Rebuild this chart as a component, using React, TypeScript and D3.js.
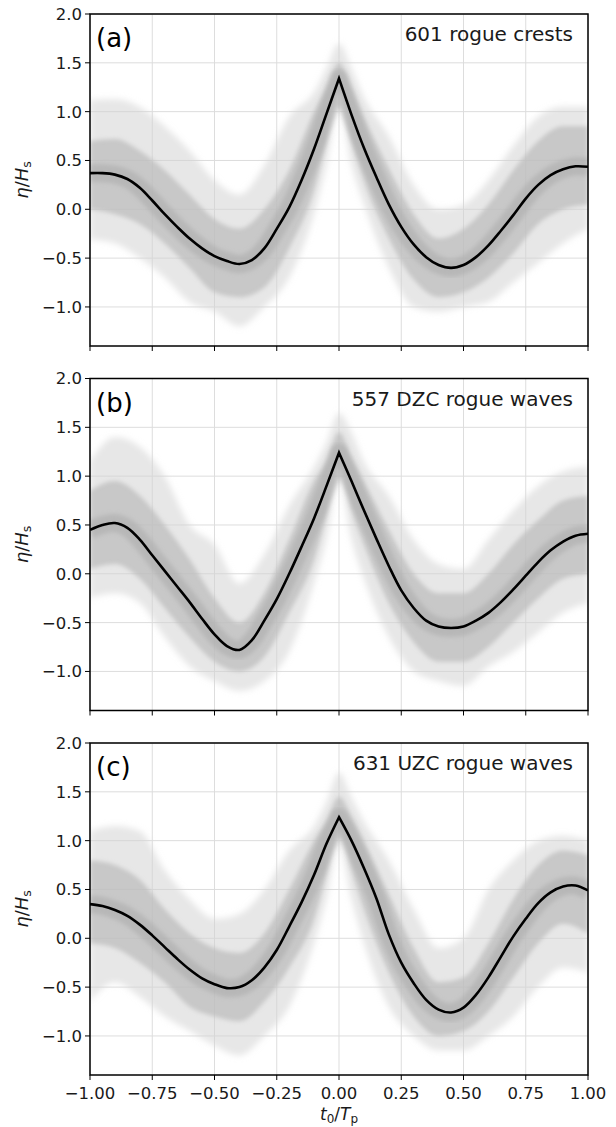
import React from "react";
import * as d3 from "d3";

// ---------- data ----------
const xTicks = [-1, -0.75, -0.5, -0.25, 0, 0.25, 0.5, 0.75, 1];
const yTicks = [-1.0, -0.5, 0, 0.5, 1.0, 1.5, 2.0];
const panelLabels = ["(a)", "(b)", "(c)"];
const panelTitles = ["601 rogue crests", "557 DZC rogue waves", "631 UZC rogue waves"];

const meanT = [-1, -0.95, -0.9, -0.85, -0.8, -0.75, -0.7, -0.65, -0.6, -0.55, -0.5, -0.45, -0.4, -0.35, -0.3, -0.25, -0.2, -0.15, -0.1, -0.05, 0, 0.05, 0.1, 0.15, 0.2, 0.25, 0.3, 0.35, 0.4, 0.45, 0.5, 0.55, 0.6, 0.65, 0.7, 0.75, 0.8, 0.85, 0.9, 0.95, 1.0];
const meanA = [0.37, 0.37, 0.355, 0.31, 0.22, 0.09, -0.05, -0.18, -0.3, -0.4, -0.48, -0.53, -0.56, -0.52, -0.4, -0.2, 0.02, 0.3, 0.62, 0.98, 1.34, 0.97, 0.63, 0.33, 0.05, -0.18, -0.36, -0.49, -0.57, -0.6, -0.57, -0.49, -0.37, -0.22, -0.06, 0.11, 0.25, 0.35, 0.41, 0.44, 0.435];
const meanB = [0.45, 0.5, 0.52, 0.47, 0.35, 0.19, 0.03, -0.13, -0.29, -0.46, -0.62, -0.74, -0.78, -0.68, -0.48, -0.26, 0.0, 0.28, 0.57, 0.9, 1.24, 0.95, 0.65, 0.36, 0.08, -0.17, -0.35, -0.48, -0.54, -0.555, -0.54, -0.48, -0.4, -0.29, -0.16, -0.02, 0.12, 0.24, 0.33, 0.39, 0.41];
const meanC = [0.35, 0.33, 0.29, 0.23, 0.14, 0.03, -0.09, -0.21, -0.32, -0.41, -0.47, -0.51, -0.5, -0.43, -0.3, -0.12, 0.12, 0.37, 0.65, 0.97, 1.24, 1.0, 0.72, 0.41, 0.04, -0.25, -0.46, -0.63, -0.73, -0.76, -0.71, -0.58, -0.4, -0.19, 0.02, 0.2, 0.36, 0.47, 0.53, 0.54, 0.49];

const bandT = [-1, -0.9, -0.8, -0.7, -0.6, -0.5, -0.4, -0.3, -0.2, -0.1, -0.05, 0, 0.05, 0.1, 0.2, 0.3, 0.4, 0.5, 0.6, 0.7, 0.8, 0.9, 1];
const aOuterHi = [1.12, 1.13, 1.05, 0.85, 0.6, 0.3, 0.15, 0.45, 0.95, 1.2, 1.45, 1.7, 1.45, 1.15, 0.75, 0.25, 0.0, 0.05, 0.3, 0.65, 0.95, 1.05, 1.05];
const aOuterLo = [-0.31, -0.35, -0.5, -0.7, -0.95, -1.05, -1.2, -1.0, -0.7, -0.05, 0.45, 1.05, 0.45, 0.05, -0.6, -1.0, -1.05, -1.0, -0.95, -0.75, -0.55, -0.35, -0.2];
const aInnerHi = [0.7, 0.72, 0.6, 0.4, 0.15, -0.1, -0.2, 0.0, 0.4, 1.0, 1.25, 1.5, 1.25, 0.95, 0.42, -0.05, -0.3, -0.2, 0.05, 0.4, 0.7, 0.85, 0.85];
const aInnerLo = [0.0, -0.05, -0.15, -0.35, -0.6, -0.85, -0.9, -0.8, -0.4, 0.2, 0.7, 1.2, 0.7, 0.3, -0.3, -0.72, -0.9, -0.85, -0.7, -0.45, -0.15, 0.0, 0.05];

const bOuterHi = [1.15, 1.4, 1.3, 1.0, 0.5, 0.3, -0.1, 0.2, 0.7, 1.1, 1.35, 1.65, 1.45, 1.15, 0.8, 0.35, 0.1, 0.05, 0.35, 0.65, 0.9, 1.05, 1.1];
const bOuterLo = [-0.25, -0.2, -0.3, -0.65, -0.95, -1.1, -1.2, -1.1, -0.8, -0.1, 0.35, 0.95, 0.35, -0.05, -0.65, -1.0, -1.1, -1.15, -0.95, -0.8, -0.6, -0.4, -0.3];
const bInnerHi = [0.85, 0.95, 0.8, 0.5, 0.15, -0.25, -0.5, -0.2, 0.35, 0.95, 1.15, 1.45, 1.2, 0.95, 0.45, 0.0, -0.2, -0.2, 0.0, 0.3, 0.55, 0.75, 0.8];
const bInnerLo = [0.05, 0.1, -0.05, -0.35, -0.65, -0.9, -1.0, -0.85, -0.4, 0.15, 0.6, 1.1, 0.65, 0.3, -0.3, -0.7, -0.9, -0.9, -0.75, -0.5, -0.25, -0.05, 0.0];

const cOuterHi = [1.1, 1.15, 1.1, 0.7, 0.4, 0.2, 0.25, 0.5, 0.9, 1.15, 1.4, 1.7, 1.45, 1.2, 0.8, 0.3, -0.1, 0.0, 0.5, 0.8, 1.0, 1.05, 1.0];
const cOuterLo = [-0.65, -0.45, -0.6, -0.8, -0.95, -1.1, -1.2, -1.0, -0.7, -0.05, 0.4, 0.95, 0.4, -0.05, -0.7, -1.0, -1.15, -1.15, -1.0, -0.8, -0.5, -0.3, -0.35];
const cInnerHi = [0.8, 0.75, 0.6, 0.3, 0.05, -0.1, -0.15, 0.05, 0.5, 1.0, 1.2, 1.45, 1.25, 1.0, 0.45, -0.1, -0.45, -0.4, -0.05, 0.4, 0.75, 0.9, 0.85];
const cInnerLo = [-0.05, -0.1, -0.25, -0.45, -0.7, -0.8, -0.85, -0.65, -0.3, 0.2, 0.65, 1.1, 0.7, 0.3, -0.35, -0.8, -1.0, -0.95, -0.75, -0.4, -0.05, 0.15, 0.05];

const means = [meanA, meanB, meanC];
const outerHi = [aOuterHi, bOuterHi, cOuterHi];
const outerLo = [aOuterLo, bOuterLo, cOuterLo];
const innerHi = [aInnerHi, bInnerHi, cInnerHi];
const innerLo = [aInnerLo, bInnerLo, cInnerLo];

// ---------- layout ----------
const W = 616;
const H = 1127;
const LEFT = 90;
const RIGHT = 588;
const PH = 332;
const TOPS = [14, 378.5, 743];
const FONT = "DejaVu Sans, sans-serif";
const TICK_FS = 16.5;
const fmtMinus = (s: string) => s.replace("-", "\u2212");

export default function App() {
  const x = d3.scaleLinear().domain([-1, 1]).range([LEFT, RIGHT]);

  return (
    <div style={{ position: "absolute", left: 0, top: 0 }}>
      <svg width={W} height={H} style={{ display: "block", background: "#fff" }} fontFamily={FONT}>
        <defs>
          <filter id="soft" x="-5%" y="-5%" width="110%" height="110%">
            <feGaussianBlur stdDeviation="2.2" />
          </filter>
          <filter id="soft2" x="-5%" y="-5%" width="110%" height="110%">
            <feGaussianBlur stdDeviation="3" />
          </filter>
          {TOPS.map((top, i) => (
            <clipPath id={`clip${i}`} key={i}>
              <rect x={LEFT} y={top} width={RIGHT - LEFT} height={PH} />
            </clipPath>
          ))}
        </defs>
        {TOPS.map((top, i) => {
          const y = d3.scaleLinear().domain([-1.4, 2.0]).range([top + PH, top]);
          const bandData = bandT.map((t, k) => ({
            t,
            oh: outerHi[i][k],
            ol: outerLo[i][k],
            ih: innerHi[i][k],
            il: innerLo[i][k],
          }));
          const outerArea = d3
            .area<any>()
            .x((d) => x(d.t))
            .y0((d) => y(d.ol))
            .y1((d) => y(d.oh))
            .curve(d3.curveMonotoneX)(bandData) as string;
          const innerArea = d3
            .area<any>()
            .x((d) => x(d.t))
            .y0((d) => y(d.il))
            .y1((d) => y(d.ih))
            .curve(d3.curveMonotoneX)(bandData) as string;
          const pts = meanT.map((t, k) => ({ t, v: means[i][k] }));
          const leftPts = pts.filter((p) => p.t <= 0);
          const rightPts = pts.filter((p) => p.t >= 0);
          const lineGen = d3
            .line<any>()
            .x((d) => x(d.t))
            .y((d) => y(d.v))
            .curve(d3.curveCatmullRom.alpha(0.5));
          const meanPath = (lineGen(leftPts) as string) + (lineGen(rightPts) as string).replace(/^M/, "L");
          const isLast = i === TOPS.length - 1;
          const bottom = top + PH;
          return (
            <g key={i}>
              {/* grid */}
              {xTicks.map((t) => (
                <line key={"gx" + t} x1={x(t)} x2={x(t)} y1={top} y2={bottom} stroke="#dddddd" strokeWidth={1} />
              ))}
              {yTicks.map((t) => (
                <line key={"gy" + t} x1={LEFT} x2={RIGHT} y1={y(t)} y2={y(t)} stroke="#dddddd" strokeWidth={1} />
              ))}
              {/* bundle of realisations */}
              <g clipPath={`url(#clip${i})`}>
                <path d={outerArea} fill="#d4d4d4" fillOpacity={0.55} filter="url(#soft2)" />
                <path d={innerArea} fill="#bbbbbb" fillOpacity={0.72} filter="url(#soft)" />
                <path
                  d={meanPath}
                  fill="none"
                  stroke="#a9a9a9"
                  strokeOpacity={0.55}
                  strokeWidth={18}
                  strokeLinejoin="round"
                  filter="url(#soft)"
                />
                <path d={meanPath} fill="none" stroke="#000" strokeWidth={2.6} strokeLinejoin="miter" />
              </g>
              {/* spines */}
              <rect x={LEFT} y={top} width={RIGHT - LEFT} height={PH} fill="none" stroke="#000" strokeWidth={1.5} />
              {/* y ticks */}
              {yTicks.map((t) => (
                <g key={"ty" + t}>
                  <line x1={LEFT - 5} x2={LEFT} y1={y(t)} y2={y(t)} stroke="#000" strokeWidth={1} />
                  <text x={LEFT - 8} y={y(t)} dy="0.36em" textAnchor="end" fontSize={TICK_FS} fill="#1a1a1a">
                    {fmtMinus(d3.format(".1f")(t))}
                  </text>
                </g>
              ))}
              {/* x ticks */}
              {xTicks.map((t) => (
                <g key={"tx" + t}>
                  <line x1={x(t)} x2={x(t)} y1={bottom} y2={bottom + 5} stroke="#000" strokeWidth={1} />
                  {isLast && (
                    <text x={x(t)} y={bottom + 24} textAnchor="middle" fontSize={TICK_FS} fill="#1a1a1a">
                      {fmtMinus(d3.format(".2f")(t))}
                    </text>
                  )}
                </g>
              ))}
              {/* labels */}
              <text x={96} y={top + 33} fontSize={26} fill="#000">
                {panelLabels[i]}
              </text>
              <text x={573} y={top + 27} fontSize={20} textAnchor="end" fill="#1a1a1a">
                {panelTitles[i]}
              </text>
              <text
                transform={`translate(28, ${top + PH / 2}) rotate(-90)`}
                textAnchor="middle"
                fontSize={18}
                fill="#1a1a1a"
              >
                <tspan fontStyle="italic">η</tspan>
                <tspan>/</tspan>
                <tspan fontStyle="italic">H</tspan>
                <tspan fontSize={12.5} dy={3}>s</tspan>
              </text>
            </g>
          );
        })}
        <text x={x(0)} y={1120} textAnchor="middle" fontSize={17} fill="#1a1a1a">
          <tspan fontStyle="italic">t</tspan>
          <tspan fontSize={12} dy={2.5}>0</tspan>
          <tspan dy={-2.5}>/</tspan>
          <tspan fontStyle="italic">T</tspan>
          <tspan fontSize={12} dy={2.5}>p</tspan>
        </text>
      </svg>
    </div>
  );
}
